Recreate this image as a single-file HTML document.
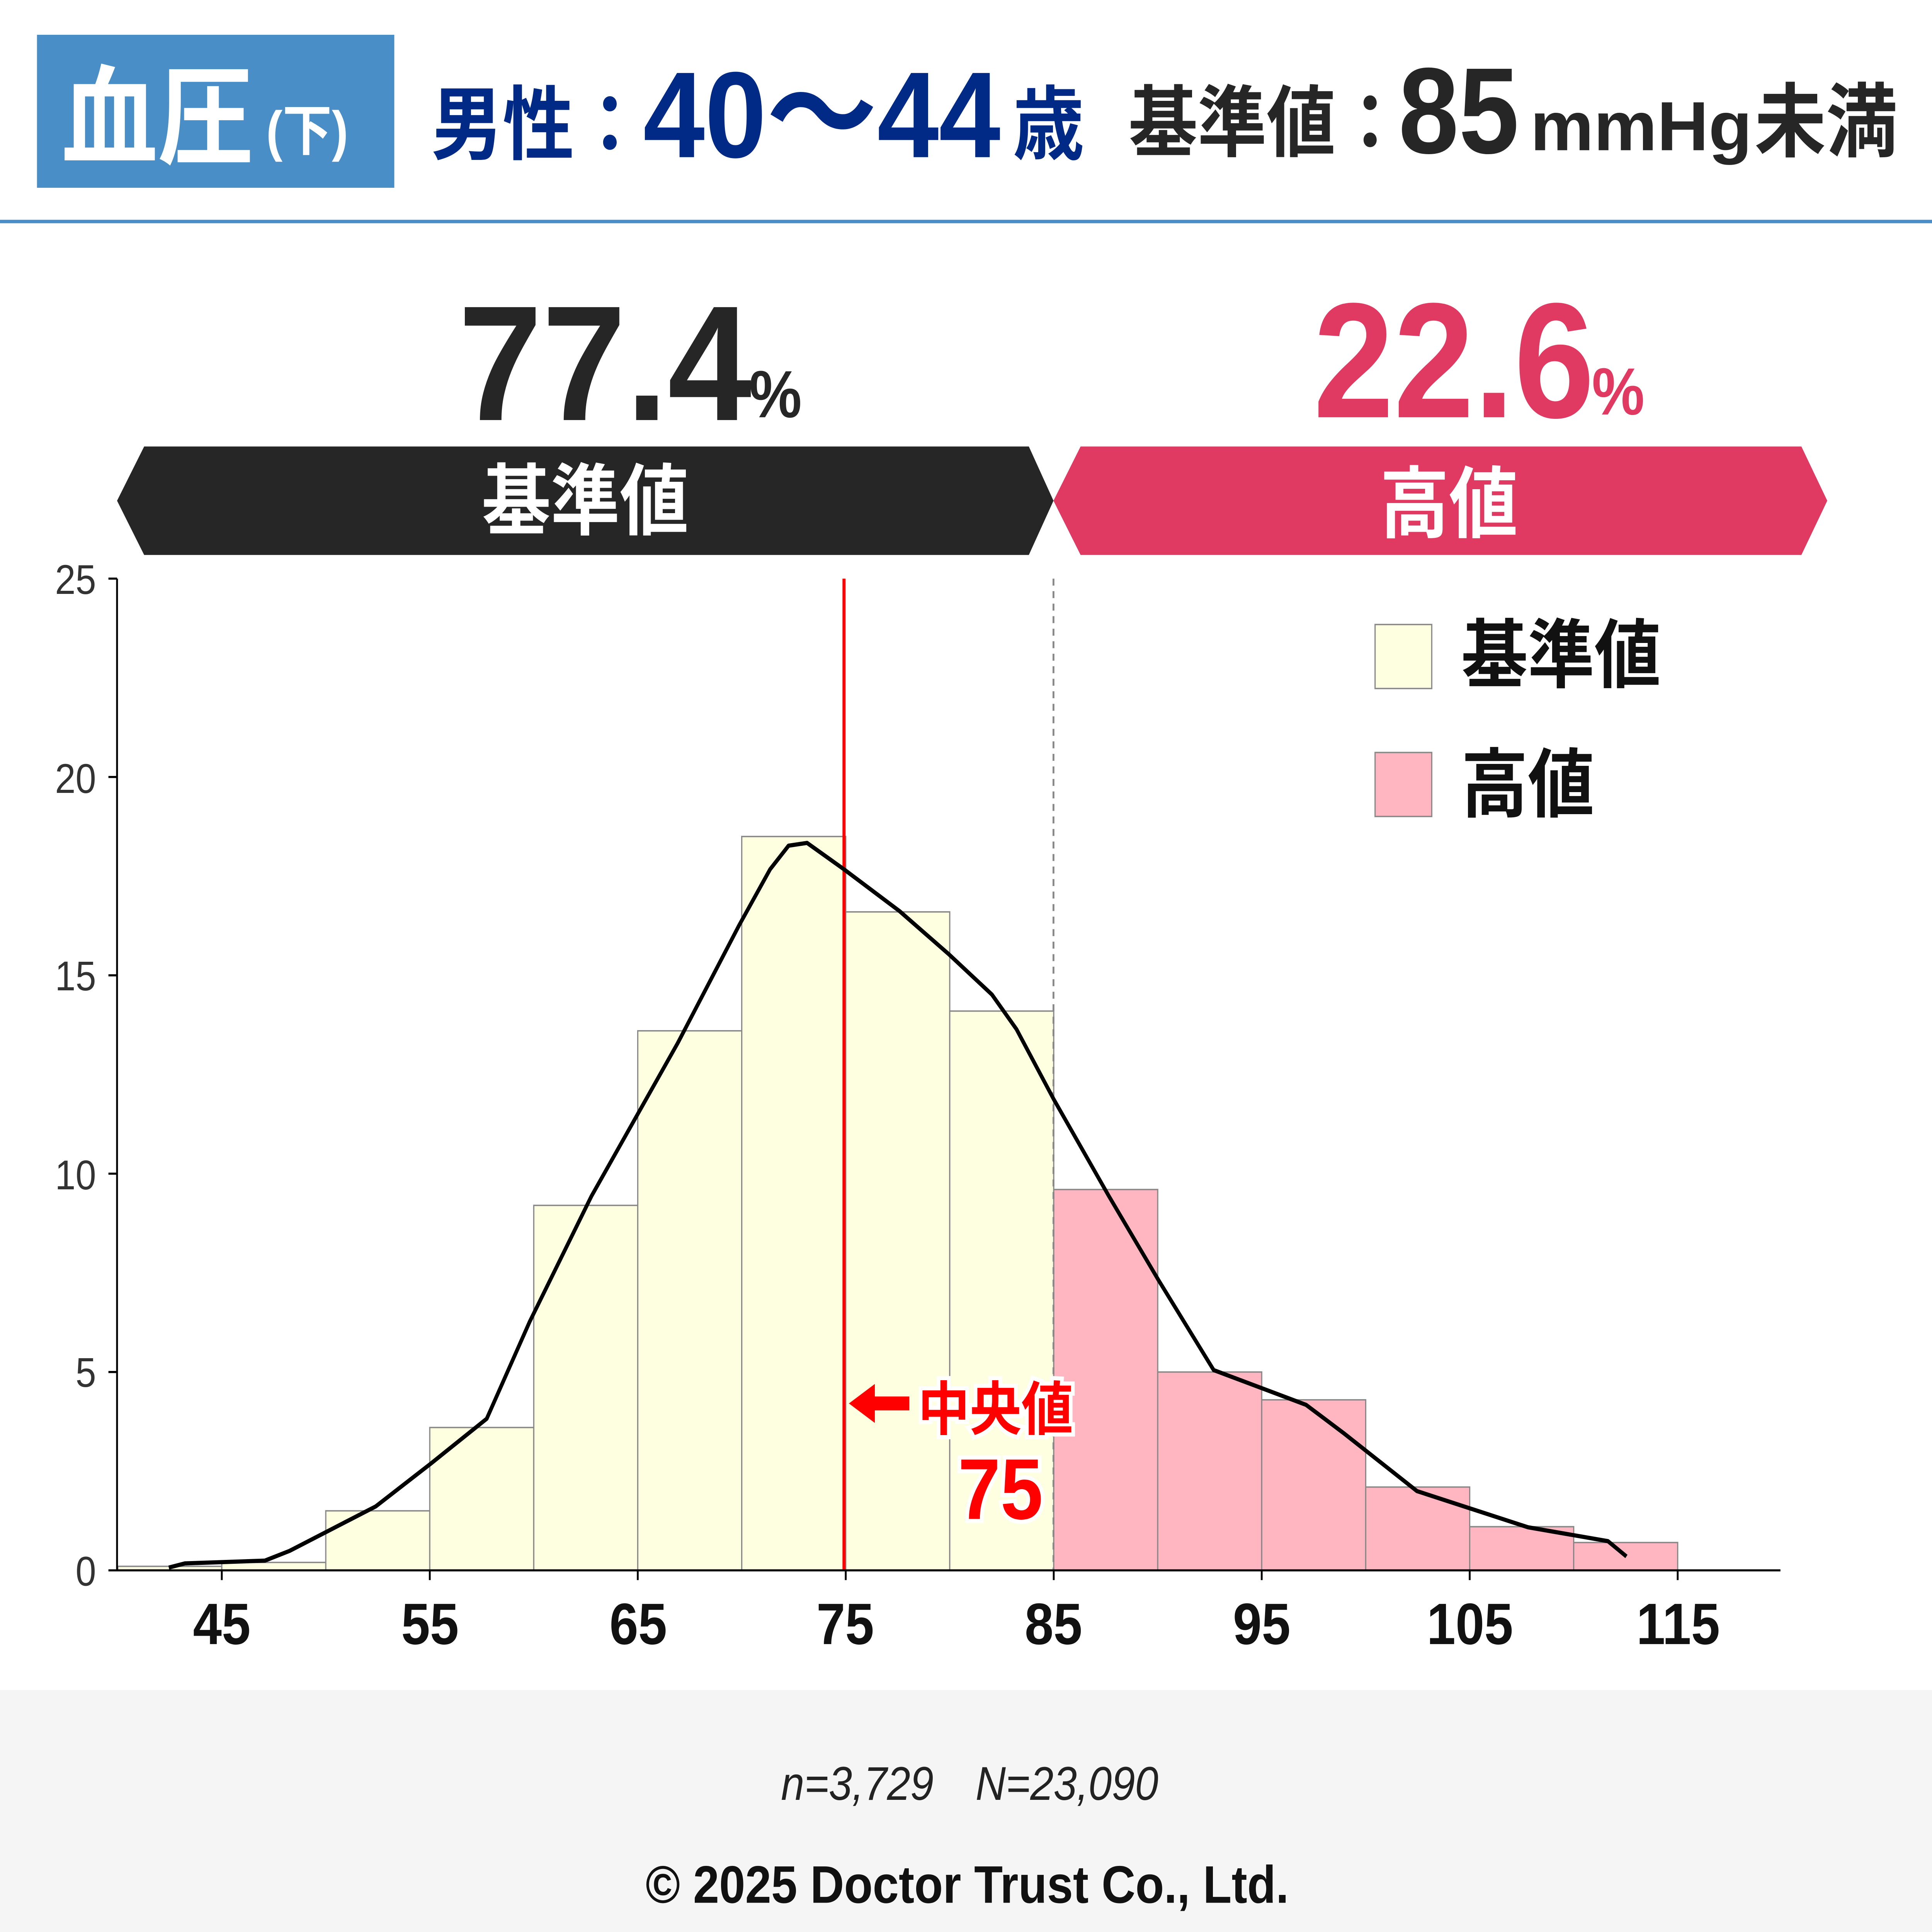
<!DOCTYPE html>
<html><head><meta charset="utf-8"><style>
html,body{margin:0;padding:0;background:#fff;width:100%;height:100%;overflow:hidden;}
svg{display:block;width:100vw;height:100vh;}
text{font-family:"Liberation Sans","Noto Sans CJK JP",sans-serif;}
</style></head><body>
<svg viewBox="0 0 1568 1389" preserveAspectRatio="none" xmlns="http://www.w3.org/2000/svg">
<rect width="1568" height="1389" fill="#fff"/>
<rect x="30" y="25" width="290" height="110" fill="#4a8ec8"/>
<text x="50" y="112" font-size="78" font-weight="bold" fill="#fff">血圧</text>
<text x="216" y="108" font-size="40" font-weight="bold" fill="#fff">(下)</text>
<text x="350" y="110" font-size="58" font-weight="bold" fill="#012a87">男性：</text>
<text x="522" y="113" font-size="88" font-weight="bold" fill="#012a87" textLength="290" lengthAdjust="spacingAndGlyphs">40〜44</text>
<text x="822" y="110" font-size="58" font-weight="bold" fill="#012a87">歳</text>
<text x="916" y="108" font-size="56" font-weight="bold" fill="#262626">基準値：</text>
<text x="1135" y="110" font-size="88" font-weight="bold" fill="#262626">85</text>
<text x="1242" y="108" font-size="50" font-weight="bold" fill="#262626" textLength="180" lengthAdjust="spacingAndGlyphs">mmHg</text>
<text x="1424" y="108" font-size="58" font-weight="bold" fill="#262626">未満</text>
<rect x="0" y="158" width="1568" height="2.5" fill="#4a8ec8"/>

<text x="372" y="302" font-size="118" font-weight="bold" fill="#262626" textLength="238" lengthAdjust="spacingAndGlyphs">77.4</text>
<text x="608" y="300" font-size="48" font-weight="bold" fill="#262626">%</text>
<text x="1066" y="300" font-size="118" font-weight="bold" fill="#e03a62" textLength="228" lengthAdjust="spacingAndGlyphs">22.6</text>
<text x="1292" y="298" font-size="48" font-weight="bold" fill="#e03a62">%</text>

<polygon points="95,360 117,321 835,321 855,360 835,399 117,399" fill="#262626"/>
<polygon points="855,360 877,321 1462,321 1483,360 1462,399 877,399" fill="#e03a62"/>
<text x="475" y="380" font-size="56" font-weight="bold" fill="#fff" text-anchor="middle">基準値</text>
<text x="1176" y="382" font-size="56" font-weight="bold" fill="#fff" text-anchor="middle">高値</text>

<g stroke="#888" stroke-width="1">
<rect x="95.6" y="1126.1" width="84.4" height="2.9" fill="#fefee0"/>
<rect x="180" y="1123.3" width="84.4" height="5.7" fill="#fefee0"/>
<rect x="264.4" y="1086.2" width="84.4" height="42.8" fill="#fefee0"/>
<rect x="348.8" y="1026.3" width="84.4" height="102.7" fill="#fefee0"/>
<rect x="433.2" y="866.6" width="84.4" height="262.4" fill="#fefee0"/>
<rect x="517.6" y="741.1" width="84.4" height="387.9" fill="#fefee0"/>
<rect x="602" y="601.4" width="84.4" height="527.6" fill="#fefee0"/>
<rect x="686.4" y="655.6" width="84.4" height="473.4" fill="#fefee0"/>
<rect x="770.8" y="726.9" width="84.4" height="402.1" fill="#fefee0"/>
<rect x="855.2" y="855.2" width="84.4" height="273.8" fill="#ffb6c1"/>
<rect x="939.6" y="986.4" width="84.4" height="142.6" fill="#ffb6c1"/>
<rect x="1024" y="1006.4" width="84.4" height="122.6" fill="#ffb6c1"/>
<rect x="1108.4" y="1069.1" width="84.4" height="59.9" fill="#ffb6c1"/>
<rect x="1192.8" y="1097.6" width="84.4" height="31.4" fill="#ffb6c1"/>
<rect x="1277.2" y="1109" width="84.4" height="20" fill="#ffb6c1"/>
</g>
<line x1="855" y1="416" x2="855" y2="1129" stroke="#888" stroke-width="1.5" stroke-dasharray="5,4"/>
<line x1="685" y1="416" x2="685" y2="1129" stroke="#f00" stroke-width="2.5"/>
<polyline fill="none" stroke="#000" stroke-width="3" stroke-linejoin="round" points="137,1127 150,1124 215,1122 235,1115 305,1083 350,1052 395,1020 430,950 480,860 550,750 600,665 625,625 640,608 655,606 685,625 730,655 770,686 805,715 825,740 855,790 900,860 940,920 985,985 1060,1010 1090,1030 1150,1072 1240,1098 1305,1108 1320,1119"/>

<line x1="95" y1="416" x2="95" y2="1129" stroke="#000" stroke-width="1.5"/>
<line x1="95" y1="1129" x2="1445" y2="1129" stroke="#000" stroke-width="1.5"/>
<g stroke="#000" stroke-width="1.5">
<line x1="88" y1="416" x2="95" y2="416"/><line x1="88" y1="558.6" x2="95" y2="558.6"/><line x1="88" y1="701.2" x2="95" y2="701.2"/><line x1="88" y1="843.8" x2="95" y2="843.8"/><line x1="88" y1="986.4" x2="95" y2="986.4"/><line x1="88" y1="1129" x2="95" y2="1129"/>
<line x1="180" y1="1129" x2="180" y2="1136"/><line x1="348.8" y1="1129" x2="348.8" y2="1136"/><line x1="517.6" y1="1129" x2="517.6" y2="1136"/><line x1="686.4" y1="1129" x2="686.4" y2="1136"/><line x1="855.2" y1="1129" x2="855.2" y2="1136"/><line x1="1024" y1="1129" x2="1024" y2="1136"/><line x1="1192.8" y1="1129" x2="1192.8" y2="1136"/><line x1="1361.6" y1="1129" x2="1361.6" y2="1136"/>
</g>
<g font-size="30" fill="#333" text-anchor="end">
<text x="78" y="427">25</text><text x="78" y="570">20</text><text x="78" y="712">15</text><text x="78" y="855">10</text><text x="78" y="997">5</text><text x="78" y="1140">0</text>
</g>
<g font-size="42" font-weight="bold" fill="#111" text-anchor="middle">
<text x="180" y="1182">45</text><text x="349" y="1182">55</text><text x="518" y="1182">65</text><text x="686" y="1182">75</text><text x="855" y="1182">85</text><text x="1024" y="1182">95</text><text x="1193" y="1182">105</text><text x="1362" y="1182">115</text>
</g>

<rect x="1116" y="449" width="46" height="46" fill="#fefee0" stroke="#888"/>
<rect x="1116" y="541" width="46" height="46" fill="#ffb6c1" stroke="#888"/>
<text x="1186" y="490" font-size="54" font-weight="bold" fill="#111">基準値</text>
<text x="1186" y="583" font-size="54" font-weight="bold" fill="#111">高値</text>

<polygon points="689,1009 710,995 710,1004 738,1004 738,1014 710,1014 710,1023" fill="#f00"/>
<text x="745" y="1028" font-size="42" font-weight="bold" fill="#f00" stroke="#fff" stroke-width="6" paint-order="stroke">中央値</text>
<text x="812" y="1092" font-size="62" font-weight="bold" fill="#f00" text-anchor="middle" stroke="#fff" stroke-width="6" paint-order="stroke">75</text>

<rect x="0" y="1215" width="1568" height="174" fill="#f5f5f5"/>
<text x="787" y="1294" font-size="34" font-style="italic" fill="#222" text-anchor="middle">n=3,729　N=23,090</text>
<text x="785" y="1368" font-size="38" font-weight="bold" fill="#111" text-anchor="middle">© 2025 Doctor Trust Co., Ltd.</text>
</svg>
</body></html>
